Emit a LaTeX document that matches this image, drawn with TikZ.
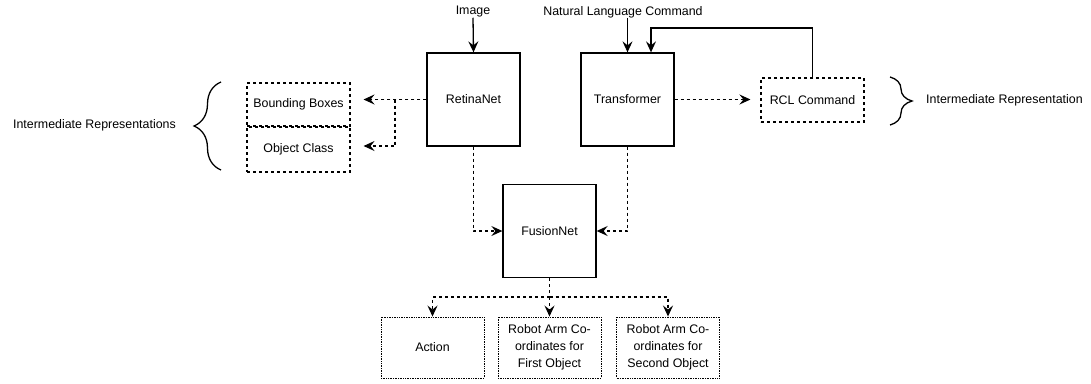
\documentclass[tikz,border=0pt]{standalone}
\usepackage{fontspec}
\setmainfont{Liberation Sans}
\usetikzlibrary{arrows.meta,decorations.pathreplacing,calc}

\begin{document}
\begin{tikzpicture}[x=1pt,y=-1pt,
  every node/.style={font=\fontsize{12.4}{17}\selectfont, inner sep=0pt},
  block/.style={draw, line width=1.3pt, minimum width=93pt, minimum height=93pt},
  dbox/.style={draw, dash pattern=on 3pt off 3pt, line width=1.1pt, minimum width=103pt},
  obox/.style={draw, dash pattern=on 1pt off 0.7pt, line width=0.9pt,
    minimum width=103pt, minimum height=61pt, align=center},
  flow/.style={line width=1.3pt, -{Stealth[length=11pt,width=10pt,inset=4pt]}},
  dline/.style={line width=1.3pt, dash pattern=on 3pt off 3pt},
  dflow/.style={flow, dash pattern=on 3pt off 3pt},
  bracepath/.style={line width=1.3pt, decorate, decoration={brace, amplitude=#1}}
]
\useasboundingbox (0,0) rectangle (1091,383);

% main processing blocks
\node[block] (ret) at (473.5,99.5) {RetinaNet};
\node[block] (tra) at (627.5,99.5) {Transformer};
\node[block] (fus) at (549.5,231) {FusionNet};

% intermediate outputs
\node[dbox, minimum height=44pt] (rcl) at (812.5,100) {RCL Command};
\node[dbox, minimum height=43pt] (bb) at (298.5,104.5) {Bounding Boxes};
\node[dbox, minimum height=45pt] (oc) at (298.5,149.5) {Object Class};

% final outputs
\node[obox] (act) at (432.5,347.5) {Action};
\node[obox] (c1) at (549.5,347.5) {Robot Arm Co-\\ordinates for\\First Object};
\node[obox] (c2) at (668,347.5) {Robot Arm Co-\\ordinates for\\Second Object};

% inputs and labels
\node (img) at (473,12) {Image};
\node (nlc) at (623,12) {Natural Language Command};
\node[anchor=east] (irl) at (176,125) {Intermediate Representations};
\node[anchor=west] (irr) at (926,100) {Intermediate Representation};

% input arrows
\draw[flow] (img.south) -- (ret.north);
\draw[flow] (tra.north |- nlc.south) -- (tra.north);
\coordinate (fb) at (651,28);
\draw[flow] (rcl.north) |- (fb) -- (fb |- tra.north);

% transformer to RCL command
\coordinate (rtip) at ($(rcl.west)+(-10,0)$);
\draw[dflow] (tra.east) -- (tra.east -| rtip);

% RetinaNet to bounding boxes / object class
\coordinate (ltip) at ($(bb.east)+(13,0)$);
\coordinate (br) at (395,146);
\draw[dflow] (ret.west) -- (ret.west -| ltip);
\draw[dflow] (ret.west -| br) |- (br -| ltip);

% into FusionNet
\draw[dflow] (ret.south) |- (fus.west);
\draw[dflow] (tra.south) |- (fus.east);

% FusionNet outputs
\coordinate (split) at (549.5,297);
\draw[dline] (fus.south) -- (split);
\draw[dflow] (split) -| (act.north);
\draw[dflow] (split) -- (c1.north);
\draw[dflow] (split) -| (c2.north);

% braces
\draw[bracepath=27pt] (221,170) -- (221,82);
\draw[bracepath=22pt] (890,77) -- (890,125);
\end{tikzpicture}
\end{document}
